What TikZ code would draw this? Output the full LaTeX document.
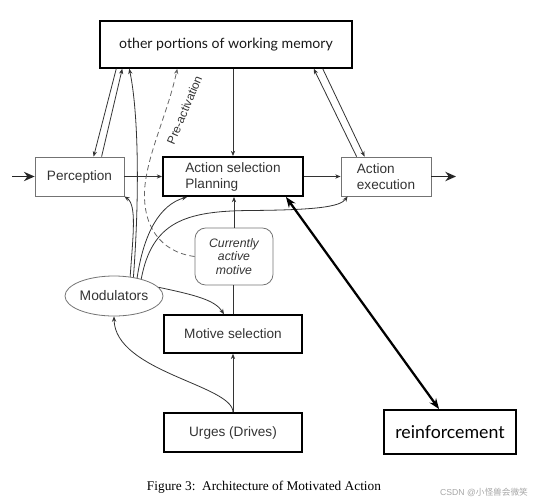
\documentclass[tikz,border=0pt]{standalone}
\usepackage{fontspec}
\setmainfont{Liberation Serif}
\setsansfont{Liberation Sans}
\newfontfamily\gillfont{Lato}
\newfontfamily\cjkfont{Noto Sans CJK SC}
\usetikzlibrary{
  shapes.geometric,
  arrows.meta,
  calc,
}
\tikzset{
  block/.style={
    rectangle,
    draw=black!55,
    line width=0.6pt,
    minimum height=29.25pt,
    align=left,
    text=black!80,
    font=\sffamily\fontsize{10.2}{12}\selectfont
  },
  block_thick/.style={
    block,
    draw=black,
    line width=1.1pt
  },
  motive_box/.style={
    rectangle,
    rounded corners=8pt,
    draw=black!55,
    line width=0.6pt,
    minimum width=58.5pt,
    minimum height=42.75pt,
    align=center,
    text=black!80,
    font=\sffamily\itshape\fontsize{9.2}{10}\selectfont
  },
  mod_ellipse/.style={
    ellipse,
    draw=black!55,
    line width=0.6pt,
    minimum width=73.5pt,
    minimum height=30pt,
    inner sep=0pt,
    text=black!80,
    font=\sffamily\fontsize{10.4}{12}\selectfont
  },
  arrow/.style={
    draw=black!80,
    line width=0.6pt,
    -{Stealth[length=4pt, width=3.2pt]},
  },
  link/.style={
    draw=black!80,
    line width=0.6pt,
  },
  big_arrow/.style={
    draw=black!85,
    line width=1.1pt,
    -{Stealth[length=8pt, width=7pt]},
  },
  thick_arrow/.style={
    draw=black,
    line width=1.7pt,
    {Stealth[length=8pt, width=6pt]}-{Stealth[length=8pt, width=6pt]},
  },
}

\begin{document}
\begin{tikzpicture}[x=0.75pt, y=-0.75pt]
  \useasboundingbox (0,0) rectangle (536,500);

  % Blocks
  \node (mem) [block_thick, minimum width=189pt, minimum height=35.25pt, align=center,
    text=black!90, font=\gillfont\fontsize{10.6}{12}\selectfont] at (226,44.5)
    {other portions of working memory};
  \node (perception) [block, minimum width=66.75pt] at (79.5,176.5) {Perception};
  \node (action_sel) [block_thick, line width=1.4pt, minimum width=105pt] at (233,176.5)
    {Action selection\\Planning};
  \node (action_exec) [block, minimum width=67.5pt] at (386,176.5) {Action\\execution};
  \node (active_motive) [motive_box] at (234,256.5) {Currently\\active\\motive};
  \node (modulators) [mod_ellipse] at (114,296) {Modulators};
  \node (motive_sel) [block_thick, minimum width=103.5pt, minimum height=28.5pt] at (233,334)
    {Motive selection};
  \node (urges) [block_thick, minimum width=103.5pt] at (233,432.5) {Urges (Drives)};
  \node (reinforcement) [block_thick, line width=1.4pt, minimum width=99pt, minimum height=33pt,
    text=black, font=\gillfont\fontsize{13.3}{15}\selectfont] at (450,432) {reinforcement};

  % Outside world
  \coordinate (world_in) at (12,176.5);
  \coordinate (world_out) at (456,176.5);
  \draw [big_arrow] (world_in) -- (perception.west);
  \draw [big_arrow] (action_exec.east) -- (world_out);

  % Main flow
  \draw [arrow] (perception.east) -- (action_sel.west);
  \draw [arrow] (action_sel.east) -- (action_exec.west);
  \draw [arrow] (action_sel.north |- mem.south) -- (action_sel.north);
  \draw [arrow] (active_motive.north) -- (active_motive.north |- action_sel.south);
  \draw [link] (motive_sel.north) -- (motive_sel.north |- active_motive.south);
  \draw [arrow] (urges.north) -- (motive_sel.south);

  % Working memory links
  \draw [arrow] ($(mem.south west)+(17,0)$) -- ($(perception.north west)+(59,0)$);
  \draw [arrow] ($(perception.north west)+(67,0)$) -- ($(mem.south west)+(23,0)$);
  \draw [arrow] ($(action_exec.north west)+(16,0)$) -- ($(mem.south east)+(-39,0)$);
  \draw [arrow] ($(mem.south east)+(-30,0)$) -- ($(action_exec.north west)+(24,0)$);

  % Pre-activation
  \draw [arrow, dashed, draw=black!60, dash pattern=on 4pt off 2.5pt]
    (active_motive.west) .. controls (160,252) and (141,225) .. (145,185)
    .. controls (149,150) and (168,112) .. ($(mem.south west)+(78,0)$);
  \node (preact_label) [rotate=67, text=black!80, font=\sffamily\fontsize{8.9}{10}\selectfont]
    at (184.5,110) {Pre-activation};

  % Modulators
  \draw [arrow] (modulators.50) .. controls (133,235) and (137,205) .. (perception.south east);
  \draw [arrow] (modulators.44) .. controls (140,190) and (138,110) .. ($(mem.south west)+(30,0)$);
  \draw [arrow] (modulators.38) .. controls (144,232) and (160,205) .. ($(action_sel.south west)+(25,0)$);
  \draw [arrow] (modulators.32) .. controls (152,222) and (185,211) .. (250,210.5)
    .. controls (315,210) and (340,207) .. ($(action_exec.south west)+(7,0)$);
  \draw [arrow] (modulators.11) .. controls (195,295) and (215,300) .. ($(motive_sel.north)+(-9,0)$);
  \draw [arrow] (urges.north) .. controls (233,385) and (115,372) .. (modulators.south);

  % Reinforcement
  \draw [thick_arrow] ($(action_sel.south east)+(-18,0)$) -- ($(reinforcement.north west)+(56,0)$);

  % Caption
  \node (caption) [font=\rmfamily\fontsize{10}{12}\selectfont] at (264,487)
    {Figure 3:\ \ Architecture of Motivated Action};
  \node (watermark) [text=black!35, font=\sffamily\fontsize{6.5}{8}\selectfont, inner sep=0pt]
    at (484,492) {CSDN @{\cjkfont 小怪兽会微笑}};

\end{tikzpicture}
\end{document}
